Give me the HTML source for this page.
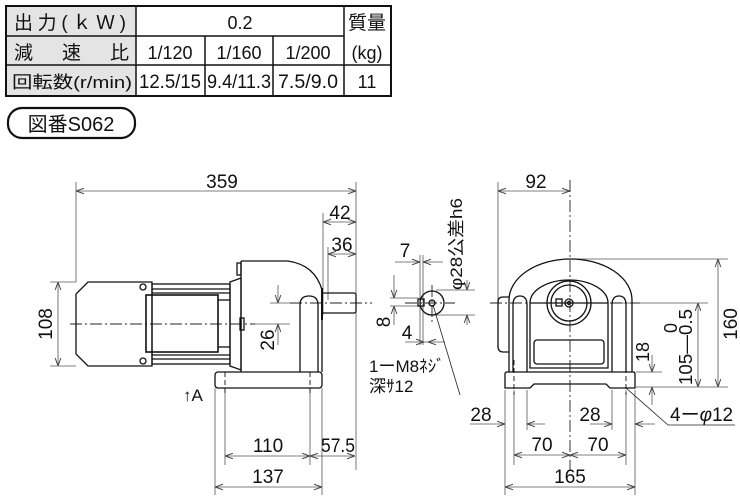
<!DOCTYPE html>
<html><head><meta charset="utf-8"><style>
body{margin:0;background:#fff}
svg{display:block}
text{font-family:"Liberation Sans","Noto Sans CJK JP",sans-serif;fill:#111}
</style></head><body>
<svg width="740" height="500" viewBox="0 0 740 500" xmlns="http://www.w3.org/2000/svg">
<defs>
<marker id="a" viewBox="0 0 10 10" refX="10" refY="5" markerWidth="8" markerHeight="8" orient="auto-start-reverse" markerUnits="userSpaceOnUse"><path d="M0,1.5 L10,5 L0,8.5" fill="none" stroke="#444" stroke-width="1.2"/></marker>
</defs>
<!-- table -->
<rect x="6" y="6" width="130" height="90" fill="#e4e4e4"/>
<g stroke="#111" stroke-width="1.5" fill="none">
<rect x="6" y="6" width="385" height="90" stroke-width="2"/>
<line x1="136" y1="6" x2="136" y2="96"/>
<line x1="344" y1="6" x2="344" y2="96"/>
<line x1="6" y1="36" x2="344" y2="36"/>
<line x1="6" y1="65" x2="391" y2="65"/>
<line x1="205" y1="36" x2="205" y2="96"/>
<line x1="273" y1="36" x2="273" y2="96"/>
</g>
<g font-size="19">
<text x="14" y="29" textLength="112">出力(ｋＷ)</text>
<text x="14" y="59">減</text><text x="62" y="59">速</text><text x="110" y="59">比</text>
<text x="12" y="88" font-size="17" textLength="120" lengthAdjust="spacingAndGlyphs">回転数(r/min)</text>
<text x="240" y="29" text-anchor="middle" font-size="18">0.2</text>
<text x="367" y="29" text-anchor="middle">質量</text>
<text x="367" y="59" text-anchor="middle" font-size="18">(kg)</text>
<text x="170" y="59" text-anchor="middle" font-size="18">1/120</text>
<text x="239" y="59" text-anchor="middle" font-size="18">1/160</text>
<text x="308" y="59" text-anchor="middle" font-size="18">1/200</text>
<text x="170" y="88" text-anchor="middle" font-size="19" textLength="62" lengthAdjust="spacingAndGlyphs">12.5/15</text>
<text x="239" y="88" text-anchor="middle" font-size="19" textLength="64" lengthAdjust="spacingAndGlyphs">9.4/11.3</text>
<text x="308" y="88" text-anchor="middle" font-size="19" textLength="60" lengthAdjust="spacingAndGlyphs">7.5/9.0</text>
<text x="367" y="88" text-anchor="middle" font-size="18">11</text>
</g>
<rect x="8" y="108" width="127" height="30" rx="14" fill="none" stroke="#111" stroke-width="2.2"/>
<text x="71" y="131" font-size="20" text-anchor="middle">図番S062</text>

<!-- dims thin lines -->
<g stroke="#555" stroke-width="0.8" fill="none">
<line x1="76" y1="182" x2="76" y2="282"/><line x1="356" y1="182" x2="356" y2="470"/>
<line x1="76" y1="191" x2="356" y2="191" marker-start="url(#a)" marker-end="url(#a)"/>
<line x1="323" y1="213" x2="323" y2="315"/><line x1="323" y1="222" x2="356" y2="222" marker-start="url(#a)" marker-end="url(#a)"/>
<line x1="328" y1="247" x2="328" y2="300"/><line x1="328" y1="254" x2="356" y2="254" marker-start="url(#a)" marker-end="url(#a)"/>
<line x1="50" y1="282" x2="76" y2="282"/><line x1="50" y1="366" x2="76" y2="366"/>
<line x1="58" y1="282" x2="58" y2="366" marker-start="url(#a)" marker-end="url(#a)"/>
<line x1="270" y1="303" x2="300" y2="303"/><line x1="255" y1="324" x2="290" y2="324"/>
<line x1="278" y1="285" x2="278" y2="303" marker-end="url(#a)"/><line x1="278" y1="345" x2="278" y2="324" marker-end="url(#a)"/>
<line x1="215" y1="388" x2="215" y2="495"/><line x1="322" y1="388" x2="322" y2="495"/>
<line x1="225" y1="388" x2="225" y2="465"/><line x1="310" y1="388" x2="310" y2="465"/>
<line x1="225" y1="456" x2="310" y2="456" marker-start="url(#a)" marker-end="url(#a)"/>
<line x1="310" y1="456" x2="355" y2="456" marker-start="url(#a)" marker-end="url(#a)"/>
<line x1="215" y1="487" x2="322" y2="487" marker-start="url(#a)" marker-end="url(#a)"/>
<!-- middle -->
<line x1="420" y1="255" x2="420" y2="345"/><line x1="423" y1="255" x2="423" y2="345"/>
<line x1="395" y1="262" x2="420" y2="262" marker-end="url(#a)"/><line x1="443" y1="262" x2="423" y2="262" marker-end="url(#a)"/>
<line x1="424" y1="342" x2="428" y2="342"/>
<line x1="405" y1="342" x2="424" y2="342" marker-end="url(#a)"/><line x1="445" y1="342" x2="428" y2="342" marker-end="url(#a)"/>
<line x1="390" y1="298" x2="418" y2="298"/><line x1="390" y1="306" x2="418" y2="306"/>
<line x1="394" y1="275" x2="394" y2="298" marker-end="url(#a)"/><line x1="394" y1="325" x2="394" y2="306" marker-end="url(#a)"/>
<line x1="436" y1="290" x2="475" y2="290"/><line x1="436" y1="315" x2="475" y2="315"/>
<line x1="467" y1="280" x2="467" y2="290" marker-end="url(#a)"/><line x1="467" y1="325" x2="467" y2="315" marker-end="url(#a)"/>
<line x1="433" y1="305" x2="460" y2="395" stroke="#222"/>
<!-- right -->
<line x1="498" y1="182" x2="498" y2="340"/>
<line x1="498" y1="191" x2="570" y2="191" marker-start="url(#a)" marker-end="url(#a)"/>
<line x1="570" y1="259" x2="728" y2="259"/><line x1="636" y1="387" x2="728" y2="387"/>
<line x1="610" y1="303" x2="708" y2="303"/><line x1="636" y1="372" x2="662" y2="372"/>
<line x1="718" y1="259" x2="718" y2="387" marker-start="url(#a)" marker-end="url(#a)"/>
<line x1="698" y1="303" x2="698" y2="387" marker-start="url(#a)" marker-end="url(#a)"/>
<line x1="652" y1="355" x2="652" y2="372" marker-end="url(#a)"/><line x1="652" y1="405" x2="652" y2="387" marker-end="url(#a)"/>
<line x1="505" y1="390" x2="505" y2="495"/><line x1="635" y1="390" x2="635" y2="495"/>
<line x1="514" y1="390" x2="514" y2="465"/><line x1="626" y1="390" x2="626" y2="465"/>
<line x1="527" y1="390" x2="527" y2="430"/><line x1="612" y1="390" x2="612" y2="430"/>
<line x1="470" y1="424" x2="505" y2="424" marker-end="url(#a)"/><line x1="545" y1="424" x2="527" y2="424" marker-end="url(#a)"/>
<line x1="590" y1="424" x2="612" y2="424" marker-end="url(#a)"/><line x1="655" y1="424" x2="635" y2="424" marker-end="url(#a)"/>
<line x1="514" y1="455" x2="570" y2="455" marker-start="url(#a)" marker-end="url(#a)"/>
<line x1="570" y1="455" x2="626" y2="455" marker-start="url(#a)" marker-end="url(#a)"/>
<line x1="505" y1="487" x2="635" y2="487" marker-start="url(#a)" marker-end="url(#a)"/>
<polyline points="626,388 668,425 735,425" stroke="#222"/>
</g>
<!-- centerlines -->
<g stroke="#222" stroke-width="0.9" stroke-dasharray="12,3,2,3" fill="none">
<line x1="70" y1="324" x2="255" y2="324"/>
<line x1="290" y1="303" x2="372" y2="303"/>
<line x1="405" y1="303" x2="455" y2="303"/>
<line x1="432" y1="285" x2="432" y2="322"/>
<line x1="570" y1="180" x2="570" y2="470"/>
<line x1="490" y1="303" x2="640" y2="303"/>
</g>
<!-- left drawing body -->
<g stroke="#111" stroke-width="1.3" fill="none">
<path d="M88,282 L152,282 L152,366 L88,366 L76,354 L76,294 Z"/>
<rect x="152" y="284" width="78" height="80"/>
<line x1="152" y1="289" x2="230" y2="289"/><line x1="152" y1="293" x2="230" y2="293"/>
<line x1="152" y1="355" x2="230" y2="355"/><line x1="152" y1="359" x2="230" y2="359"/>
<line x1="218" y1="300" x2="230" y2="300"/><line x1="218" y1="347" x2="230" y2="347"/>
<rect x="146" y="295" width="72" height="57" stroke-width="1.6"/>
<circle cx="143" cy="287" r="3"/><circle cx="143" cy="361" r="3"/>
<path d="M230,282 L241,278 L241,370 L230,366 Z"/>
<path d="M241,261 L288,261 Q315,265 322,290 L322,372 M241,261 L241,372"/>
<path d="M300,372 L300,305 Q300,296 309,296 Q318,296 318,305 L318,372"/>
<rect x="237" y="263" width="4" height="12"/><rect x="240" y="318" width="4" height="12"/>
<rect x="215" y="372" width="107" height="16" rx="3"/>
<rect x="322" y="293" width="34" height="20" rx="2"/>
<line x1="322" y1="288" x2="322" y2="320" stroke-width="2"/>
<!-- middle -->
<circle cx="432" cy="303" r="12"/><circle cx="432" cy="303" r="3"/>
<rect x="418" y="299" width="6" height="7"/>
<!-- right -->
<path d="M509,372 L509,300 A61.5,41 0 0 1 632,300 L632,372"/>
<path d="M530,303 A39,23 0 0 1 608,303"/>
<path d="M513,372 L513,305 Q513,296 520,296 Q527,296 527,305 L527,372"/>
<path d="M612,372 L612,305 Q612,296 619,296 Q626,296 626,305 L626,372"/>
<path d="M530,303 L608,303 L608,368 L530,368 Z"/>
<rect x="534" y="340" width="70" height="24" rx="3"/>
<circle cx="569" cy="303" r="22"/><circle cx="569" cy="303" r="18"/><circle cx="569" cy="303" r="4"/><circle cx="569" cy="303" r="1.5"/>
<rect x="556" y="299" width="6" height="7"/>
<path d="M509,297 L503,297 Q498,297 498,302 L498,346 Q498,352 503,352 L509,352"/>
<path d="M505,388 L505,374 Q505,372 507,372 L633,372 Q635,372 635,374 L635,388 L610,388 L606,384 L534,384 L530,388 Z"/>
</g>
<g stroke="#111" stroke-width="0.9" stroke-dasharray="5,3" fill="none">
<line x1="225" y1="372" x2="225" y2="395"/><line x1="310" y1="372" x2="310" y2="395"/>
<line x1="514" y1="360" x2="514" y2="395"/><line x1="626" y1="360" x2="626" y2="395"/>
</g>
<!-- labels -->
<g font-size="19">
<text x="222" y="188" text-anchor="middle">359</text>
<text x="340" y="219" text-anchor="middle">42</text>
<text x="342" y="251" text-anchor="middle">36</text>
<text transform="translate(52,324) rotate(-90)" text-anchor="middle">108</text>
<text transform="translate(274,340) rotate(-90)" text-anchor="middle">26</text>
<text x="268" y="452" text-anchor="middle">110</text>
<text x="338" y="452" text-anchor="middle" textLength="34" lengthAdjust="spacingAndGlyphs">57.5</text>
<text x="268" y="483" text-anchor="middle">137</text>
<text x="183" y="401" font-size="17">↑A</text>
<text x="405" y="257" text-anchor="middle">7</text>
<text transform="translate(390,322) rotate(-90)" text-anchor="middle">8</text>
<text x="407" y="339" text-anchor="middle">4</text>
<text transform="translate(462,290) rotate(-90)" text-anchor="start" font-size="17" textLength="92" lengthAdjust="spacingAndGlyphs">φ28公差h6</text>
<text x="369" y="372" font-size="17">1ーM8ﾈｼﾞ</text>
<text x="369" y="392" font-size="17">深ｻ12</text>
<text x="536" y="188" text-anchor="middle">92</text>
<text transform="translate(737,324) rotate(-90)" text-anchor="middle">160</text>
<text transform="translate(692,385) rotate(-90)" text-anchor="start" font-size="18" textLength="76" lengthAdjust="spacingAndGlyphs">105—0.5</text>
<text transform="translate(677,328) rotate(-90)" text-anchor="middle" font-size="18">0</text>
<text transform="translate(649,352) rotate(-90)" text-anchor="middle" font-size="18">18</text>
<text x="481" y="421" text-anchor="middle">28</text>
<text x="590" y="421" text-anchor="middle">28</text>
<text x="542" y="451" text-anchor="middle">70</text>
<text x="598" y="451" text-anchor="middle">70</text>
<text x="570" y="483" text-anchor="middle">165</text>
<text x="670" y="421">4ー<tspan font-style="italic">φ</tspan>12</text>
</g>
</svg>
</body></html>
